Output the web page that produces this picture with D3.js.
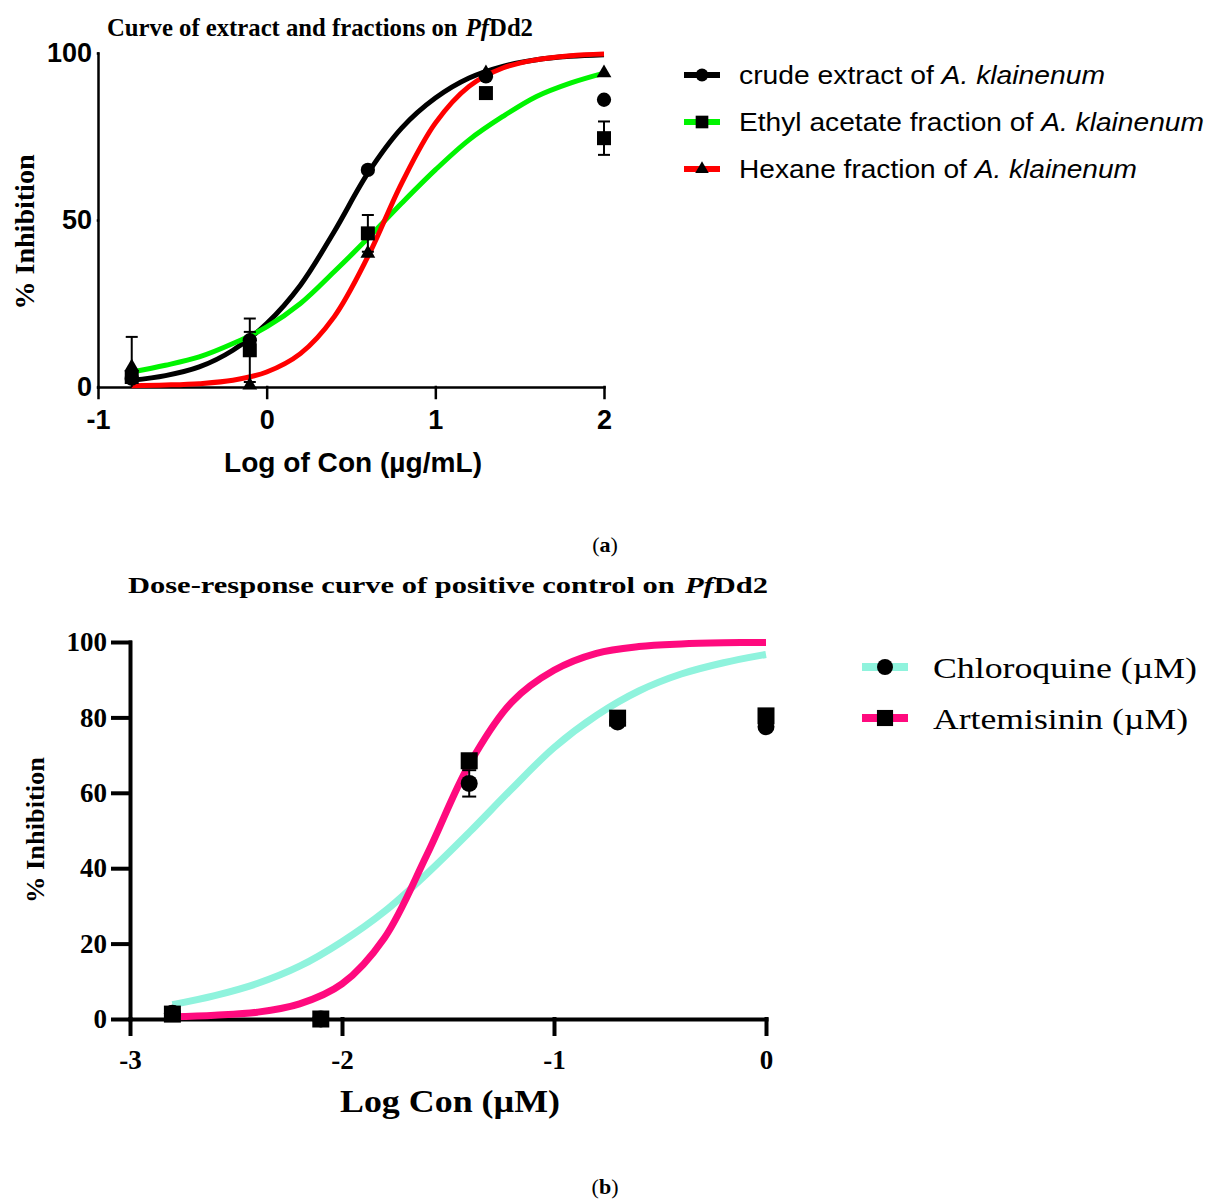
<!DOCTYPE html>
<html>
<head>
<meta charset="utf-8">
<script src="https://cdn.jsdelivr.net/npm/d3@7"></script>
<style>
  body { margin: 0; background: #fff; }
</style>
</head>
<body>
<div id="chart"></div>
<script>
//----- Panel (a): extract and fractions on PfDd2 -----
const logConA = [-0.8, -0.1, 0.6, 1.3, 2.0];
const crudeMean = [2.5, 14, 65, 93, 86];
const crudeErr = [0, 2.5, 0, 0, 0];
const ethylMean = [3, 11, 46, 88, 74.5];
const ethylErr = [0, 9.5, 5.5, 0, 5];
const hexaneMean = [6, 0.5, 40, 94, 94];
const hexaneErr = [9, 0, 0, 0, 0];

//Fitted curves
const fitXA = [-0.8, -0.6, -0.4, -0.2, 0, 0.2, 0.4, 0.6, 0.8, 1.0, 1.2, 1.4, 1.6, 1.8, 2.0];
const crudeFit = [2, 3.4, 6, 11, 19, 30.5, 46.5, 64, 77.5, 86.5, 92.5, 96, 98, 99, 99.5];
const ethylFit = [4.5, 6.5, 9, 13, 18, 25, 34.5, 44.5, 55, 65, 74, 81, 87, 91, 94];
const hexaneFit = [0.4, 0.6, 1, 2, 4.5, 10, 21, 39, 61, 79, 90, 95.5, 98, 99.2, 99.7];

const xTicksA = [-1, 0, 1, 2];
const yTicksA = [0, 50, 100];

//----- Panel (b): positive control on PfDd2 -----
const logConB = [-2.8, -2.1, -1.4, -0.7, 0];
const chloroMean = [1.5, 0, 62.5, 78.8, 77.5];
const chloroErr = [0, 0, 3.5, 0, 0];
const artemMean = [1.3, 0, 68.5, 79.8, 80.4];
const artemErr = [0, 0, 0, 0, 0];

const fitXB = [-2.8, -2.6, -2.4, -2.2, -2.0, -1.8, -1.6, -1.4, -1.2, -1.0, -0.8, -0.6, -0.4, -0.2, 0];
const chloroFit = [3.8, 6.2, 9.4, 14, 20.5, 28.5, 38.5, 49.5, 61, 72, 80.5, 87, 91.5, 94.5, 96.7];
const artemFit = [0.6, 1, 1.8, 4, 9.3, 21.5, 43.5, 67.5, 84, 92.5, 97, 98.8, 99.5, 99.8, 99.9];

const xTicksB = [-3, -2, -1, 0];
const yTicksB = [0, 20, 40, 60, 80, 100];

const serif = "'Liberation Serif', 'Times New Roman', serif";
const sans = "'Liberation Sans', Arial, sans-serif";

//Create SVG
const svg = d3.select("#chart")
    .append("svg")
    .attr("width", 1205)
    .attr("height", 1200)
    .style("background", "#fff");

//Builds one panel: axes, curves, error bars, markers, legend and labels
function drawPanel(cfg) {
    const g = svg.append("g");
    const x = cfg.x, y = cfg.y;

    //x axis sits on y = 0, y axis sits on the lowest x value
    const xAxis = g.append("g")
        .attr("transform", `translate(0,${y(0)})`)
        .call(d3.axisBottom(x)
            .tickValues(cfg.xTicks)
            .tickSize(cfg.xTickSize)
            .tickSizeOuter(0)
            .tickPadding(cfg.xPad)
            .tickFormat(d => String(d)));

    const yAxis = g.append("g")
        .attr("transform", `translate(${x.range()[0]},0)`)
        .call(d3.axisLeft(y)
            .tickValues(cfg.yTicks)
            .tickSize(cfg.yTickSize)
            .tickSizeOuter(0)
            .tickPadding(cfg.yPad)
            .tickFormat(d => String(d)));

    [xAxis, yAxis].forEach(a => {
        a.selectAll("path, line")
            .attr("stroke", "#000")
            .attr("stroke-width", cfg.axisWidth)
            .attr("stroke-linecap", "square");
        a.selectAll("text")
            .attr("fill", "#000")
            .style("font-family", cfg.tickFont)
            .style("font-weight", "bold")
            .style("font-size", cfg.tickSize + "px");
    });

    //Curves
    const line = d3.line()
        .x(d => x(d[0]))
        .y(d => y(d[1]))
        .curve(d3.curveCatmullRom.alpha(0.5));

    cfg.series.forEach(s => {
        g.append("path")
            .datum(cfg.fitX.map((v, i) => [v, s.fit[i]]))
            .attr("fill", "none")
            .attr("stroke", s.color)
            .attr("stroke-width", cfg.curveWidth)
            .attr("d", line);
    });

    //Error bars and markers, drawn in the order given
    cfg.markerOrder.forEach(s => {
        const pts = cfg.xs.map((v, i) => ({x: v, m: s.mean[i], e: s.err[i]}));
        const eb = g.append("g")
            .attr("stroke", "#000")
            .attr("stroke-width", 2);
        pts.filter(d => d.e > 0).forEach(d => {
            const lo = Math.max(0, d.m - d.e), hi = d.m + d.e;
            eb.append("line")
                .attr("x1", x(d.x)).attr("x2", x(d.x))
                .attr("y1", y(lo)).attr("y2", y(hi));
            [hi, lo].forEach(v => {
                if (v <= 0) return;
                eb.append("line")
                    .attr("x1", x(d.x) - cfg.cap).attr("x2", x(d.x) + cfg.cap)
                    .attr("y1", y(v)).attr("y2", y(v));
            });
        });
        g.append("g")
            .selectAll("path")
            .data(pts)
            .join("path")
            .attr("transform", d => `translate(${x(d.x)},${y(d.m)})`)
            .attr("d", d3.symbol().type(s.symbol).size(s.size))
            .attr("fill", "#000");
    });

    //Legend
    cfg.series.forEach((s, i) => {
        const ly = cfg.legend.y + i * cfg.legend.step;
        const lg = g.append("g");
        lg.append("line")
            .attr("x1", cfg.legend.x).attr("x2", cfg.legend.x + cfg.legend.len)
            .attr("y1", ly).attr("y2", ly)
            .attr("stroke", s.color)
            .attr("stroke-width", cfg.legend.width);
        lg.append("path")
            .attr("transform", `translate(${cfg.legend.x + cfg.legend.len / 2},${ly})`)
            .attr("d", d3.symbol().type(s.symbol).size(s.legendSize))
            .attr("fill", "#000");
        const t = lg.append("text")
            .attr("x", cfg.legend.x + cfg.legend.len + cfg.legend.gap)
            .attr("y", ly)
            .attr("dy", "0.36em")
            .attr("textLength", s.textLen)
            .attr("lengthAdjust", "spacingAndGlyphs")
            .style("font-family", cfg.legend.font)
            .style("font-size", cfg.legend.size + "px")
            .attr("fill", "#000");
        t.append("tspan").text(s.label);
        if (s.italic) t.append("tspan").style("font-style", "italic").text(s.italic);
    });

    //Title, the italic "Pf" is kept inside the same text element
    const title = g.append("text")
        .attr("x", cfg.title.x)
        .attr("y", cfg.title.y)
        .attr("text-anchor", "middle")
        .attr("textLength", cfg.title.len)
        .attr("lengthAdjust", "spacingAndGlyphs")
        .style("font-family", serif)
        .style("font-weight", "bold")
        .style("font-size", cfg.title.size + "px");
    title.append("tspan").text(cfg.title.text);
    title.append("tspan").attr("dx", 2).style("font-style", "italic").text("Pf");
    title.append("tspan").text("Dd2");

    //Axis labels
    g.append("text")
        .attr("transform", `translate(${cfg.yLabel.x},${cfg.yLabel.y}) rotate(-90)`)
        .attr("text-anchor", "middle")
        .attr("textLength", cfg.yLabel.len)
        .attr("lengthAdjust", "spacingAndGlyphs")
        .style("font-family", serif)
        .style("font-weight", "bold")
        .style("font-size", cfg.yLabel.size + "px")
        .text("% Inhibition");

    g.append("text")
        .attr("x", cfg.xLabel.x)
        .attr("y", cfg.xLabel.y)
        .attr("text-anchor", "middle")
        .attr("textLength", cfg.xLabel.len)
        .attr("lengthAdjust", "spacingAndGlyphs")
        .style("font-family", cfg.xLabel.font)
        .style("font-weight", "bold")
        .style("font-size", cfg.xLabel.size + "px")
        .text(cfg.xLabel.text);

    //Panel caption, with the letter in bold
    const cap = g.append("text")
        .attr("x", 605)
        .attr("y", cfg.caption.y)
        .attr("text-anchor", "middle")
        .style("font-family", serif)
        .style("font-size", "22px");
    cap.append("tspan").text("(");
    cap.append("tspan").style("font-weight", "bold").text(cfg.caption.text);
    cap.append("tspan").text(")");
}

const crude = {mean: crudeMean, err: crudeErr, fit: crudeFit, color: "#000000",
    symbol: d3.symbolCircle, size: 160, legendSize: 130,
    label: "crude extract of ", italic: "A. klainenum", textLen: 366};
const ethyl = {mean: ethylMean, err: ethylErr, fit: ethylFit, color: "#00f400",
    symbol: d3.symbolSquare, size: 196, legendSize: 160,
    label: "Ethyl acetate fraction of ", italic: "A. klainenum", textLen: 465};
const hexane = {mean: hexaneMean, err: hexaneErr, fit: hexaneFit, color: "#ff0000",
    symbol: d3.symbolTriangle, size: 95, legendSize: 80,
    label: "Hexane fraction of ", italic: "A. klainenum", textLen: 398};

drawPanel({
    x: d3.scaleLinear().domain([-1, 2]).range([98, 604]),
    y: d3.scaleLinear().domain([0, 100]).range([387, 53]),
    xTicks: xTicksA, yTicks: yTicksA,
    xTickSize: 11, yTickSize: 0, xPad: 12, yPad: 6,
    axisWidth: 2.5, tickFont: sans, tickSize: 27,
    fitX: fitXA, xs: logConA, curveWidth: 5, cap: 6,
    series: [crude, ethyl, hexane],
    markerOrder: [hexane, ethyl, crude],
    legend: {x: 684, y: 75, step: 47, len: 36, gap: 19, width: 6, font: sans, size: 26},
    title: {x: 320, y: 36, len: 426, size: 25, text: "Curve of extract and fractions on "},
    yLabel: {x: 34, y: 232, len: 155, size: 27},
    xLabel: {x: 353, y: 472, len: 258, size: 27, font: sans, text: "Log of Con (µg/mL)"},
    caption: {y: 552, text: "a"}
});

const chloro = {mean: chloroMean, err: chloroErr, fit: chloroFit, color: "#8ff3dd",
    symbol: d3.symbolCircle, size: 227, legendSize: 200,
    label: "Chloroquine (µM)", textLen: 264};
const artem = {mean: artemMean, err: artemErr, fit: artemFit, color: "#ff0a7e",
    symbol: d3.symbolSquare, size: 289, legendSize: 260,
    label: "Artemisinin (µM)", textLen: 255};

drawPanel({
    x: d3.scaleLinear().domain([-3, 0]).range([130, 766]),
    y: d3.scaleLinear().domain([0, 100]).range([1019, 642]),
    xTicks: xTicksB, yTicks: yTicksB,
    xTickSize: 15, yTickSize: 17, xPad: 16, yPad: 6,
    axisWidth: 4, tickFont: serif, tickSize: 27,
    fitX: fitXB, xs: logConB, curveWidth: 7, cap: 7,
    series: [chloro, artem],
    markerOrder: [chloro, artem],
    legend: {x: 862, y: 667, step: 51, len: 46, gap: 25, width: 8, font: serif, size: 30},
    title: {x: 448, y: 593, len: 640, size: 23, text: "Dose-response curve of positive control on "},
    yLabel: {x: 44, y: 830, len: 146, size: 25},
    xLabel: {x: 450, y: 1112, len: 220, size: 32, font: serif, text: "Log Con (µM)"},
    caption: {y: 1194, text: "b"}
});
</script>
</body>
</html>
